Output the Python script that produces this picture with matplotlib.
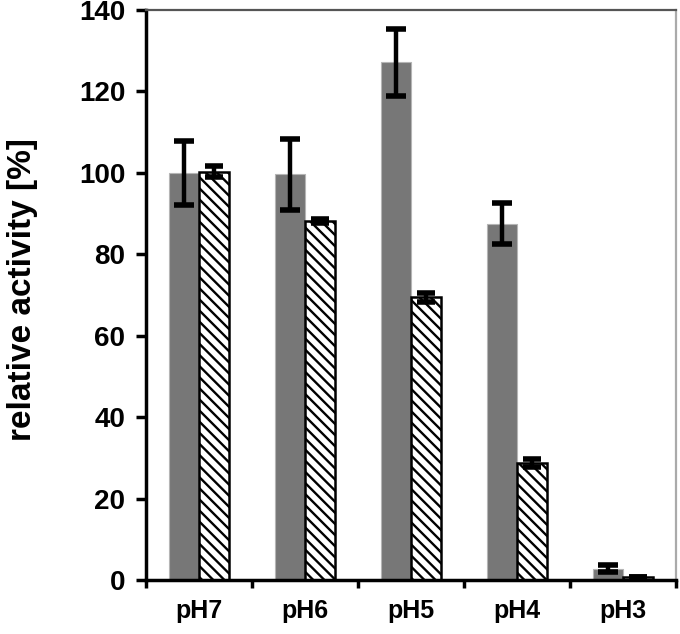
import matplotlib
matplotlib.use("Agg")
import matplotlib.pyplot as plt
import numpy as np

categories = ["pH7", "pH6", "pH5", "pH4", "pH3"]
solid_vals = [100.0, 99.6, 127.2, 87.5, 2.8]
solid_err = [7.8, 8.7, 8.2, 5.0, 0.8]
hatch_vals = [100.3, 88.2, 69.4, 28.8, 0.8]
hatch_err = [1.4, 0.5, 1.0, 1.0, 0.0]
yticks = [0, 20, 40, 60, 80, 100, 120, 140]

plt.rcParams['font.family'] = ['Liberation Sans', 'DejaVu Sans']
plt.rcParams['font.weight'] = 'bold'
plt.rcParams['hatch.linewidth'] = 1.7

fig = plt.figure(figsize=(6.8, 6.34), dpi=100)
ax = fig.add_axes([0.2147, 0.0852, 0.994 - 0.2147, 0.9842 - 0.0852])

x = np.arange(len(categories))
w = 0.28
ax.bar(x - w / 2, solid_vals, width=w, color='#777777', edgecolor='#b5b5b5', linewidth=0.8, zorder=2)
ax.bar(x + w / 2, hatch_vals, width=w, color='white', edgecolor='black', hatch='\\\\\\', linewidth=1.8, zorder=2)
ax.errorbar(x - w / 2, solid_vals, yerr=solid_err, fmt='none', ecolor='black', elinewidth=3.2, capsize=7, capthick=4, zorder=3)
ax.errorbar(x + w / 2, hatch_vals, yerr=hatch_err, fmt='none', ecolor='black', elinewidth=3.2, capsize=6.5, capthick=4, zorder=3)

ax.set_xlim(-0.5, len(categories) - 0.5)
ax.set_ylim(0, 140)
ax.set_yticks(yticks)
ax.set_yticklabels([str(v) for v in yticks])
ax.set_xticks(np.arange(len(categories) + 1) - 0.5)
ax.set_xticklabels([''] * (len(categories) + 1))
ax.set_xticks(x, minor=True)
ax.set_xticklabels(categories, minor=True)
ax.tick_params(axis='x', which='minor', length=0, pad=14, labelsize=18)
ax.tick_params(axis='x', which='major', length=6, width=2.5, direction='out')
ax.tick_params(axis='y', length=7, width=2.5, direction='out', pad=8, labelsize=20)
for lab in ax.get_xticklabels(minor=True) + ax.get_yticklabels():
    lab.set_fontweight('bold')

ax.set_ylabel('relative activity [%]', fontsize=24, fontweight='bold')
ax.yaxis.set_label_coords(-0.203, 0.51)

ax.spines['left'].set_linewidth(2.5)
ax.spines['bottom'].set_linewidth(2.5)
ax.spines['top'].set_color('#555555')
ax.spines['top'].set_linewidth(1.6)
ax.spines['right'].set_color('#aaaaaa')
ax.spines['right'].set_linewidth(1.6)

fig.savefig('out.png', dpi=100)
